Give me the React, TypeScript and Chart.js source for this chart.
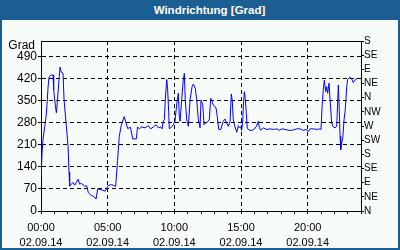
import React, { useEffect, useRef } from 'react';
import { Chart, registerables } from 'chart.js';

Chart.register(...registerables);

const chartTitle = 'Windrichtung [Grad]';
const yUnit = 'Grad';
const dateLabel = '02.09.14';
const majorHours = [0, 5, 10, 15, 20];
const hourLabels = ['00:00', '05:00', '10:00', '15:00', '20:00'];
const leftTicks = [0, 70, 140, 210, 280, 350, 420, 490];
const compassDegrees = [0, 45, 90, 135, 180, 225, 270, 315, 360, 405, 450, 495, 540];
const compassLabels = ['N', 'NE', 'E', 'SE', 'S', 'SW', 'W', 'NW', 'N', 'NE', 'E', 'SE', 'S'];

// time of day in hours
const hours = [
  0.0, 0.08, 0.15, 0.28, 0.38, 0.45, 0.53, 0.6, 0.77, 0.9, 0.95, 1.07, 1.15, 1.22, 1.33, 1.43, 1.52, 1.65, 1.73,
  2.03, 2.1, 2.15, 2.27, 2.4, 2.53, 2.65, 2.78, 2.9, 3.02, 3.28, 3.43, 3.55, 3.8, 3.92, 4.13, 4.25, 4.55, 4.8,
  5.05, 5.3, 5.6, 5.74, 5.87, 6.02, 6.24, 6.38, 6.5, 6.71, 6.88, 7.15, 7.24, 7.37, 7.55, 7.8, 8.05, 8.23, 8.42,
  8.63, 8.8, 8.98, 9.08, 9.17, 9.25, 9.32, 9.43, 9.5, 9.58, 9.62, 9.8, 9.92, 10.05, 10.18, 10.3, 10.37, 10.43,
  10.55, 10.67, 10.75, 10.82, 10.93, 11.05, 11.18, 11.33, 11.42, 11.57, 11.68, 11.8, 11.93, 12.0, 12.13, 12.23,
  12.32, 12.47, 12.62, 12.73, 12.83, 12.92, 13.13, 13.22, 13.33, 13.48, 13.67, 13.8, 13.93, 14.05, 14.18, 14.27,
  14.34, 14.42, 14.55, 14.68, 14.8, 14.87, 14.98, 15.05, 15.13, 15.17, 15.25, 15.32, 15.4, 15.47, 15.68, 15.92,
  16.13, 16.3, 16.37, 16.48, 16.67, 16.93, 17.18, 17.42, 17.68, 17.87, 18.05, 18.3, 18.62, 18.92, 19.18, 19.43,
  19.67, 19.88, 20.05, 20.18, 20.42, 20.72, 20.93, 21.0, 21.08, 21.17, 21.25, 21.35, 21.43, 21.5, 21.6, 21.68,
  21.8, 21.92, 22.05, 22.18, 22.3, 22.37, 22.43, 22.48, 22.55, 22.63, 22.73, 22.82, 22.93, 23.0, 23.18, 23.3,
  23.42, 23.55, 23.72,
];

// wind direction in degrees
const direction = [
  104, 186, 227, 268, 300, 337, 394, 425, 432, 432, 385, 337, 312, 343, 406, 457, 441, 438, 353,
  205, 123, 79, 85, 91, 82, 91, 101, 85, 88, 79, 80, 58, 48, 48, 38, 70, 67, 63,
  81, 84, 78, 160, 237, 272, 300, 280, 262, 266, 229, 229, 267, 261, 267, 264, 271, 261, 267,
  274, 264, 267, 261, 285, 290, 353, 418, 385, 312, 261, 267, 274, 285, 340, 374, 300, 285,
  353, 416, 437, 353, 290, 269, 353, 395, 403, 390, 353, 290, 264, 353, 337, 274,
  279, 282, 290, 358, 348, 337, 327, 300, 259, 259, 285, 292, 279, 269, 285, 372,
  353, 290, 267, 250, 271, 265, 267, 256, 285, 330, 379, 358, 310, 262, 256, 257,
  267, 285, 266, 256, 264, 259, 261, 259, 261, 256, 261, 259, 256, 257, 261, 261,
  256, 259, 253, 261, 261, 259, 261, 259, 332, 385, 416, 379, 395, 374, 406, 353,
  280, 267, 264, 269, 400, 320, 237, 195, 216, 230, 290, 322, 395, 418, 425, 420,
  408, 416, 422,
];

const BLUE = '#1b5e92';
const BG = '#f8fcf8';
const FONT = '"Liberation Sans", Arial, sans-serif';

const framePlugin = {
  id: 'frameAndUnit',
  afterDraw(chart: any) {
    const { ctx, chartArea } = chart;
    const { left, right, top } = chartArea;
    ctx.save();
    ctx.setLineDash([]);
    ctx.strokeStyle = '#000';
    ctx.lineWidth = 1;
    ctx.beginPath();
    ctx.moveTo(left, Math.round(top) + 0.5);
    ctx.lineTo(right + 1, Math.round(top) + 0.5);
    ctx.stroke();
    ctx.fillStyle = '#000';
    ctx.font = '12px ' + FONT;
    ctx.textAlign = 'right';
    ctx.textBaseline = 'middle';
    ctx.fillText(yUnit, left - 6, top + 5);
    ctx.restore();
  },
};

export default function App() {
  const canvasRef = useRef<HTMLCanvasElement | null>(null);

  useEffect(() => {
    const canvas = canvasRef.current;
    if (!canvas) return;
    const points = hours.map((h, i) => ({ x: h, y: direction[i] }));
    const chart = new Chart(canvas, {
      type: 'line',
      data: {
        datasets: [
          {
            data: points,
            borderColor: '#0000ff',
            borderWidth: 1,
            pointRadius: 0,
            tension: 0,
            fill: false,
          },
        ],
      },
      options: {
        animation: false,
        responsive: false,
        devicePixelRatio: 1,
        layout: { padding: { top: 21, left: 0, right: 0, bottom: 0 } },
        plugins: { legend: { display: false }, tooltip: { enabled: false }, title: { display: false } },
        scales: {
          x: {
            type: 'linear',
            min: 0,
            max: 24,
            afterBuildTicks: (scale: any) => {
              const t = [];
              for (let h = 0; h <= 24; h++) t.push({ value: h });
              scale.ticks = t;
            },
            afterFit: (scale: any) => {
              scale.height = 37;
            },
            ticks: {
              autoSkip: false,
              maxRotation: 0,
              minRotation: 0,
              padding: 6,
              color: '#000',
              font: { family: FONT, size: 11, lineHeight: 15 / 11 },
              callback: (value: any) => {
                const idx = majorHours.indexOf(Number(value));
                return idx >= 0 ? [hourLabels[idx], dateLabel] : '';
              },
            },
            grid: {
              color: (ctx: any) => {
                const v = ctx.tick ? ctx.tick.value : 0;
                return v > 0 && v < 24 && majorHours.indexOf(v) >= 0 ? '#000' : 'rgba(0,0,0,0)';
              },
              tickColor: '#000',
              tickLength: 3,
              lineWidth: 1,
            },
            border: { display: true, color: '#000', width: 1, dash: [4, 3] },
          },
          y: {
            type: 'linear',
            position: 'left',
            min: 0,
            max: 540,
            afterBuildTicks: (scale: any) => {
              scale.ticks = leftTicks.map((v) => ({ value: v }));
            },
            afterFit: (scale: any) => {
              scale.width = 39;
            },
            ticks: {
              autoSkip: false,
              padding: 1,
              color: '#000',
              font: { family: FONT, size: 12 },
              callback: (value: any) => String(value),
            },
            grid: {
              color: (ctx: any) => (ctx.tick && ctx.tick.value > 0 ? '#000' : 'rgba(0,0,0,0)'),
              tickColor: '#000',
              tickLength: 3,
              lineWidth: 1,
            },
            border: { display: true, color: '#000', width: 1, dash: [4, 3] },
          },
          y2: {
            type: 'linear',
            position: 'right',
            min: 0,
            max: 540,
            afterBuildTicks: (scale: any) => {
              scale.ticks = compassDegrees.map((v) => ({ value: v }));
            },
            afterFit: (scale: any) => {
              scale.width = 37;
            },
            ticks: {
              autoSkip: false,
              padding: 0,
              color: '#000',
              font: { family: FONT, size: 10 },
              callback: (_value: any, index: number) => compassLabels[index],
            },
            grid: {
              drawOnChartArea: false,
              color: '#000',
              tickColor: '#000',
              tickLength: 3,
              lineWidth: 1,
            },
            border: { display: true, color: '#000', width: 1 },
          },
        },
      },
      plugins: [framePlugin],
    } as any);
    return () => chart.destroy();
  }, []);

  return (
    <div
      style={{
        position: 'fixed',
        left: 0,
        top: 0,
        width: 400,
        height: 250,
        boxSizing: 'border-box',
        borderLeft: `2px solid ${BLUE}`,
        borderRight: `2px solid ${BLUE}`,
        borderBottom: `2px solid ${BLUE}`,
        background: BG,
        overflow: 'hidden',
      }}
    >
      <div
        style={{
          height: 20,
          background: BLUE,
          color: '#fff',
          fontFamily: FONT,
          fontWeight: 'bold',
          fontSize: 11.5,
          display: 'flex',
          alignItems: 'center',
          justifyContent: 'center',
          paddingLeft: 19,
          boxSizing: 'border-box',
        }}
      >
        {chartTitle}
      </div>
      <div style={{ width: 396, height: 228, position: 'relative' }}>
        <canvas ref={canvasRef} width={396} height={228} style={{ width: 396, height: 228, display: 'block' }} />
      </div>
    </div>
  );
}
